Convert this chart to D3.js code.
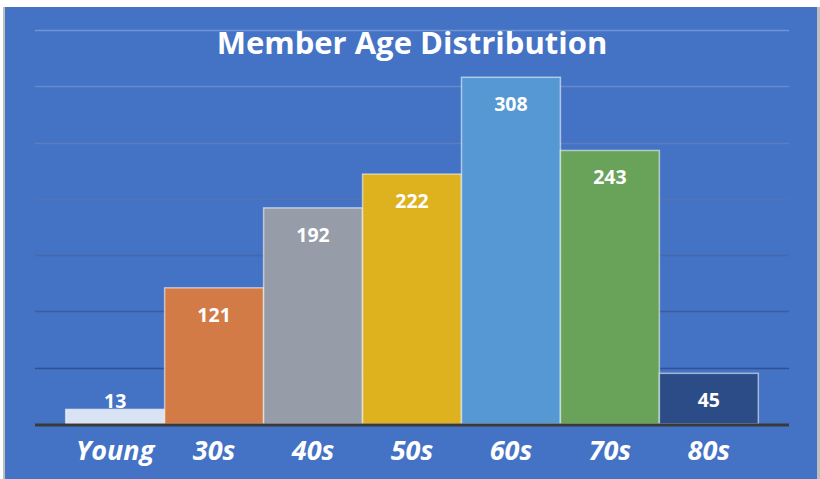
<!DOCTYPE html>
<html>
<head>
<meta charset="utf-8">
<script src="https://cdn.jsdelivr.net/npm/d3@7"></script>
<style>
body { margin: 0; background: #ffffff; }
#myDiv { width: 820px; height: 479px; }
</style>
</head>
<body>
<div id="myDiv"></div>
<script>
var ages = ["Young", "30s", "40s", "50s", "60s", "70s", "80s"];
var members = [13, 121, 192, 222, 308, 243, 45];
var barColors = ["#DAE3F3", "#D27B47", "#969DA8", "#DEB21F", "#5698D4", "#69A359", "#2C4C88"];
var gridTicks = [50, 100, 150, 200, 250, 300, 350];

function genChart(){

d3.select("#myDiv").selectAll("*").remove();

let svgContainer = d3.select("#myDiv").append("svg")
    .attr("width", 820)
    .attr("height", 479);

// chart area background + frame
svgContainer.append("rect")
    .attr("x", 3).attr("y", 7)
    .attr("width", 817).attr("height", 472)
    .attr("fill", "#BFBFBF");
svgContainer.append("rect")
    .attr("x", 5).attr("y", 7)
    .attr("width", 812).attr("height", 472)
    .attr("fill", "#4472C4");

var x = d3.scaleBand()
    .domain(ages)
    .range([35, 789])
    .paddingInner(0)
    .paddingOuter(0.31);

var y = d3.scaleLinear()
    .domain([0, 350])
    .range([424, 30]);

var gridColor = d3.scaleLinear()
    .domain([50, 350])
    .range(["#2F5294", "#7095D4"]);

svgContainer.selectAll("line.grid")
    .data(gridTicks)
    .enter()
    .append("line")
    .attr("class", "grid")
    .attr("x1", 35)
    .attr("x2", 789)
    .attr("y1", function(d){ return Math.round(y(d)) + 0.5; })
    .attr("y2", function(d){ return Math.round(y(d)) + 0.5; })
    .attr("stroke", function(d){ return gridColor(d); })
    .attr("stroke-width", 1.5);

svgContainer.selectAll("rect.bar")
    .data(members)
    .enter()
    .append("rect")
    .attr("class", "bar")
    .attr("x", function(d, i){ return x(ages[i]); })
    .attr("y", function(d){ return y(d); })
    .attr("width", x.bandwidth())
    .attr("height", function(d){ return y(0) - y(d); })
    .attr("fill", function(d, i){ return barColors[i]; })
    .attr("stroke", "rgba(255,255,255,0.55)")
    .attr("stroke-width", 1.5);

// axis line
svgContainer.append("line")
    .attr("x1", 35).attr("x2", 789)
    .attr("y1", 425).attr("y2", 425)
    .attr("stroke", "#3A3A3A")
    .attr("stroke-width", 3);

// value labels
svgContainer.selectAll("text.val")
    .data(members)
    .enter()
    .append("text")
    .attr("class", "val")
    .attr("x", function(d, i){ return x(ages[i]) + x.bandwidth() / 2; })
    .attr("y", function(d){
        var top = y(d);
        return (y(0) - top) < 40 ? top - 1 : top + 34;
    })
    .attr("text-anchor", "middle")
    .attr("font-family", "'Open Sans', sans-serif")
    .attr("font-weight", "bold")
    .attr("font-size", "19.5px")
    .attr("fill", "#FFFFFF")
    .text(function(d){ return d; });

// category labels
svgContainer.selectAll("text.cat")
    .data(ages)
    .enter()
    .append("text")
    .attr("class", "cat")
    .attr("x", function(d){ return x(d) + x.bandwidth() / 2; })
    .attr("y", 460)
    .attr("text-anchor", "middle")
    .attr("font-family", "'Open Sans', sans-serif")
    .attr("font-weight", "bold")
    .attr("font-style", "italic")
    .attr("font-size", "27px")
    .attr("fill", "#FFFFFF")
    .text(function(d){ return d; });

svgContainer.append("text")
    .attr("x", 412)
    .attr("y", 54)
    .attr("text-anchor", "middle")
    .attr("font-family", "'Open Sans', sans-serif")
    .attr("font-weight", "bold")
    .attr("font-size", "31px")
    .attr("fill", "#FFFFFF")
    .text("Member Age Distribution");
}

genChart();
</script>
</body>
</html>
